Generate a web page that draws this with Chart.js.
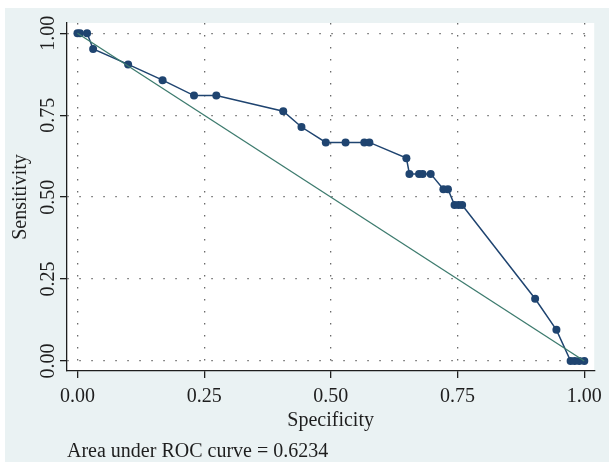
<!DOCTYPE html>
<html>
<head>
<meta charset="utf-8">
<title>ROC curve</title>
<script src="https://cdn.jsdelivr.net/npm/chart.js@4.4.1/dist/chart.umd.min.js"></script>
<style>
  body { margin: 0; background: #ffffff; }
  #wrap { width: 609px; height: 462px; }
</style>
</head>
<body>
<div id="wrap"><canvas id="rocChart" width="609" height="462"></canvas></div>
<script>
// values
const specificity = [0, 0.005, 0.019, 0.031, 0.100, 0.168, 0.230, 0.274, 0.406, 0.442,
  0.490, 0.529, 0.566, 0.576, 0.649, 0.655, 0.674, 0.681, 0.697, 0.722,
  0.731, 0.744, 0.752, 0.759, 0.903, 0.945, 0.973, 0.981, 0.990, 1.000];
const sensitivity = [1, 1, 1, 0.952, 0.905, 0.857, 0.810, 0.810, 0.762, 0.714,
  0.667, 0.667, 0.667, 0.667, 0.619, 0.571, 0.571, 0.571, 0.571, 0.524,
  0.524, 0.476, 0.476, 0.476, 0.190, 0.095, 0, 0, 0, 0];
const refX = [0, 1];
const refY = [1, 0];
const tickValues = [0, 0.25, 0.5, 0.75, 1];
const areaNote = 'Area under ROC curve = 0.6234';

const toPoints = (xs, ys) => xs.map((x, i) => ({ x: x, y: ys[i] }));

const serif = "'Liberation Serif', 'DejaVu Serif', serif";
const textColor = '#1e1e1e';

// stata-like backdrop: light outer region, white plot region
const backgroundPlugin = {
  id: 'stataBackground',
  beforeDraw(chart) {
    const { ctx, chartArea } = chart;
    ctx.save();
    ctx.fillStyle = '#ffffff';
    ctx.fillRect(0, 0, chart.width, chart.height);
    ctx.fillStyle = '#eaf2f3';
    ctx.fillRect(5, 8, chart.width - 5, chart.height - 8);
    ctx.fillStyle = '#ffffff';
    ctx.fillRect(chartArea.left, chartArea.top, chartArea.right - chartArea.left, chartArea.bottom - chartArea.top);
    ctx.restore();
  }
};

const fixedTicks = (scale) => {
  scale.ticks = tickValues.map(v => ({ value: v }));
};

const gridStyle = {
  color: '#6a6a6a',
  lineWidth: 1.3,
  drawTicks: true,
  tickLength: 7,
  tickColor: '#1e1e1e',
  tickWidth: 1.3
};

const ctx = document.getElementById('rocChart').getContext('2d');

new Chart(ctx, {
  type: 'scatter',
  data: {
    datasets: [
      {
        label: 'Reference',
        data: toPoints(refX, refY),
        showLine: true,
        borderColor: '#3d7b6e',
        borderWidth: 1.3,
        pointRadius: 0
      },
      {
        label: 'ROC',
        data: toPoints(specificity, sensitivity),
        showLine: true,
        borderColor: '#1f4470',
        borderWidth: 1.5,
        pointRadius: 4,
        pointBorderWidth: 0,
        pointBackgroundColor: '#1f4470'
      }
    ]
  },
  options: {
    responsive: false,
    animation: false,
    layout: {
      padding: { left: 0, top: 23, right: 11, bottom: 0 }
    },
    plugins: {
      legend: { display: false },
      tooltip: { enabled: false },
      subtitle: {
        display: true,
        text: areaNote,
        position: 'bottom',
        align: 'start',
        fullSize: false,
        color: textColor,
        font: { family: serif, size: 20, weight: 'normal', lineHeight: 1.0 },
        padding: { top: 0, bottom: 0 }
      }
    },
    scales: {
      x: {
        type: 'linear',
        min: -0.0206,
        max: 1.0196,
        afterBuildTicks: fixedTicks,
        afterFit: (scale) => { scale.height = 71; },
        grid: gridStyle,
        border: { display: true, color: '#1e1e1e', width: 1.3, dash: [1.5, 10.5] },
        ticks: {
          autoSkip: false,
          maxRotation: 0,
          padding: 7,
          color: textColor,
          font: { family: serif, size: 20 },
          callback: (v) => Number(v).toFixed(2)
        },
        title: {
          display: true,
          text: 'Specificity',
          color: textColor,
          font: { family: serif, size: 20, lineHeight: 1.2 },
          padding: { top: 0, bottom: 9.5 }
        }
      },
      y: {
        type: 'linear',
        min: -0.0305,
        max: 1.0314,
        afterBuildTicks: fixedTicks,
        afterFit: (scale) => { scale.width = 67; },
        grid: gridStyle,
        border: { display: true, color: '#1e1e1e', width: 1.3, dash: [1.5, 10.5] },
        ticks: {
          autoSkip: false,
          minRotation: 90,
          maxRotation: 90,
          crossAlign: 'center',
          padding: -6,
          color: textColor,
          font: { family: serif, size: 20 },
          callback: (v) => Number(v).toFixed(2)
        },
        title: {
          display: true,
          text: 'Sensitivity',
          color: textColor,
          font: { family: serif, size: 20, lineHeight: 1.2 },
          padding: { top: 9, bottom: 0 }
        }
      }
    }
  },
  plugins: [backgroundPlugin]
});
</script>
</body>
</html>
